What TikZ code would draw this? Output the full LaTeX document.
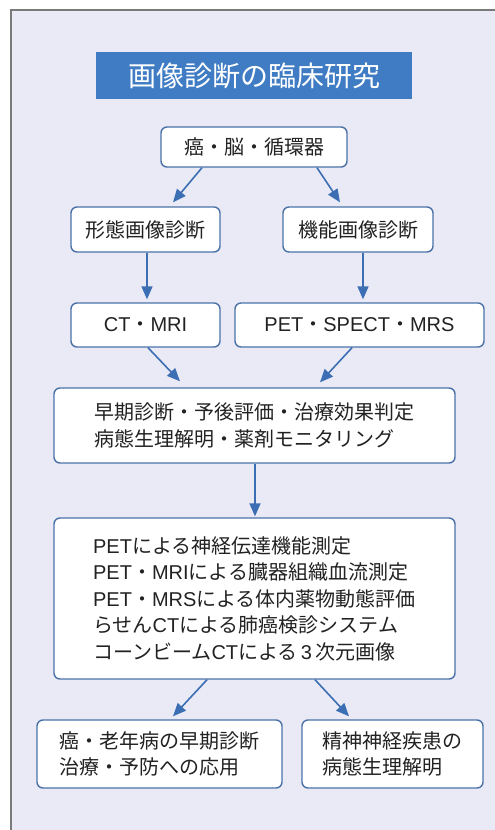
\documentclass[tikz,border=0pt]{standalone}
\usepackage{fontspec}
\setmainfont{Noto Sans CJK JP}
\newfontfamily\lat{Liberation Sans}
\usetikzlibrary{arrows.meta,calc}
\definecolor{bgc}{HTML}{E9EAF5}
\definecolor{framec}{HTML}{7A7A7A}
\definecolor{titlec}{HTML}{3F7CC4}
\definecolor{boxc}{HTML}{4A72A8}
\definecolor{arrc}{HTML}{3C6EB4}
\definecolor{txt}{HTML}{222222}
\begin{document}
\begin{tikzpicture}[x=1pt,y=-1pt,
  box/.style={draw=boxc, line width=1.4pt, rounded corners=6pt, fill=white, inner sep=0pt,
    text=txt, font=\fontsize{20}{26.5}\selectfont},
  titlebox/.style={fill=titlec, inner sep=0pt, text=white, font=\fontsize{28}{32}\selectfont},
  arr/.style={draw=arrc, line width=1.6pt, -{Triangle[length=13pt,width=11pt]}}]
\useasboundingbox (0,0) rectangle (495,830);
\fill[white] (0,0) rectangle (495,830);
\fill[bgc] (11,10) rectangle (500,840);
\draw[framec, line width=2pt] (11,840) -- (11,10) -- (500,10);

\node[titlebox, minimum width=316pt, minimum height=47pt] (title) at (254,75.5) {画像診断の臨床研究};

\node[box, minimum width=186pt, minimum height=40pt] (b1) at (254,147) {癌・脳・循環器};
\node[box, minimum width=149pt, minimum height=45pt] (b2L) at (145.5,229.5) {形態画像診断};
\node[box, minimum width=150pt, minimum height=45pt] (b2R) at (358,229.5) {機能画像診断};
\node[box, minimum width=149pt, minimum height=44pt] (b3L) at (145.5,325) {{\lat CT}・{\lat MRI}};
\node[box, minimum width=249pt, minimum height=44pt] (b3R) at (359.5,325) {{\lat PET}・{\lat SPECT}・{\lat MRS}};
\node[box, minimum width=401pt, minimum height=75pt, align=left] (b4) at (254.5,425.5)
  {早期診断・予後評価・治療効果判定\\病態生理解明・薬剤モニタリング};
\node[box, minimum width=401pt, minimum height=161pt, align=left] (b5) at (254.5,598.5)
  {{\lat PET}による神経伝達機能測定\\
   {\lat PET}・{\lat MRI}による臓器組織血流測定\\
   {\lat PET}・{\lat MRS}による体内薬物動態評価\\
   らせん{\lat CT}による肺癌検診システム\\
   コーンビーム{\lat CT}による{\lat\,3\,}次元画像};
\node[box, minimum width=245pt, minimum height=68pt, align=left] (b6L) at (159.5,754)
  {癌・老年病の早期診断\\治療・予防への応用};
\node[box, minimum width=181pt, minimum height=68pt, align=left] (b6R) at (392.5,754)
  {精神神経疾患の\\病態生理解明};

\draw[arr] ([xshift=-52pt]b1.south) -- ([xshift=27.5pt,yshift=4pt]b2L.north);
\draw[arr] ([xshift=63pt]b1.south) -- ([xshift=-18pt,yshift=4pt]b2R.north);
\draw[arr] ([xshift=1.5pt]b2L.south) -- ([xshift=1.5pt,yshift=3pt]b3L.north);
\draw[arr] ([xshift=5pt]b2R.south) -- ([xshift=3.5pt,yshift=3pt]b3R.north);
\draw[arr] ([xshift=2.5pt]b3L.south) -- ([xshift=-74.5pt,yshift=6pt]b4.north);
\draw[arr] ([xshift=-7.5pt]b3R.south) -- ([xshift=65.5pt,yshift=5pt]b4.north);
\draw[arr] ([xshift=0.5pt]b4.south) -- ([xshift=0.5pt,yshift=1pt]b5.north);
\draw[arr] ([xshift=-47.5pt]b5.south) -- ([xshift=13.5pt,yshift=3pt]b6L.north);
\draw[arr] ([xshift=60.5pt]b5.south) -- ([xshift=-43.5pt,yshift=3pt]b6R.north);
\end{tikzpicture}
\end{document}
